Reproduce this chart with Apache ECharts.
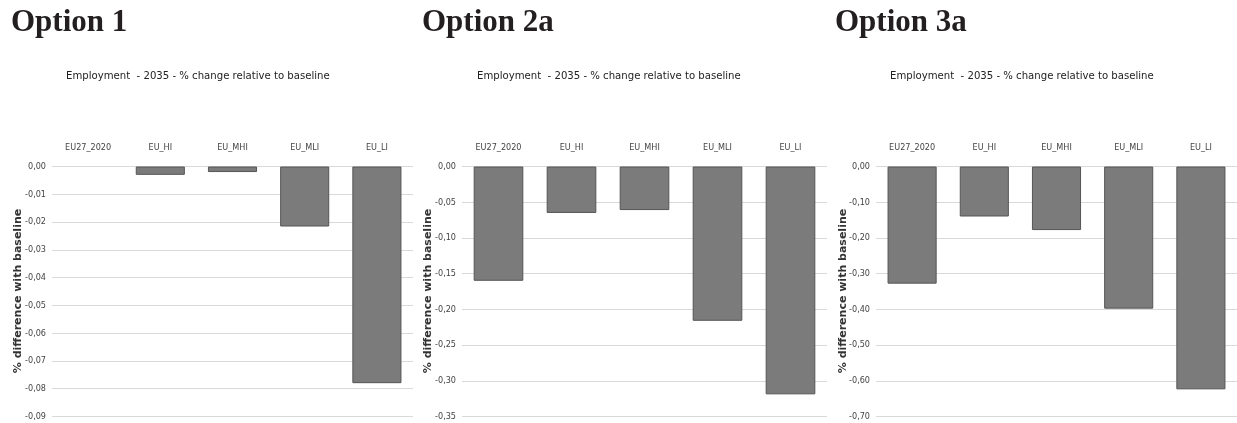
<!DOCTYPE html>
<html>
<head>
<meta charset="utf-8">
<script src="https://cdn.jsdelivr.net/npm/echarts@6/dist/echarts.min.js"></script>
<style>
  html, body { margin: 0; padding: 0; background: #fff; }
  #chart { width: 1237px; height: 423px; }
</style>
</head>
<body>
<div id="chart"></div>
<script>
const categories = ['EU27_2020', 'EU_HI', 'EU_MHI', 'EU_MLI', 'EU_LI'];
const option1 = [0, -0.003, -0.002, -0.0216, -0.078];
const option2a = [-0.16, -0.065, -0.061, -0.216, -0.319];
const option3a = [-0.328, -0.14, -0.178, -0.398, -0.624];
const panelTitles = ['Option 1', 'Option 2a', 'Option 3a'];
const subTitle = 'Employment  - 2035 - % change relative to baseline';
const yAxisTitle = '% difference with baseline';
const yMins = [-0.09, -0.35, -0.7];
const yIntervals = [0.01, 0.05, 0.1];

const chart = echarts.init(document.getElementById('chart'));

const grids = [
  { left: 52, width: 361 },
  { left: 462, width: 365 },
  { left: 876, width: 361 }
];
const condensed = '"DejaVu Sans Condensed", "Liberation Sans Narrow", sans-serif';
const fmt = v => Math.abs(v) < 1e-9 ? '0,00' : v.toFixed(2).replace('.', ',');

const seriesData = [option1, option2a, option3a];

chart.setOption({
  animation: false,
  title: [
    ...panelTitles.map((t, i) => ({
      text: t,
      left: [6, 417, 830][i],
      top: 2,
      textStyle: { fontFamily: '"Liberation Serif", serif', fontWeight: 'bold', fontSize: 31, color: '#231f20' }
    })),
    ...[0, 1, 2].map(i => ({
      text: subTitle,
      left: [61, 472, 885][i],
      top: 66,
      textStyle: { fontFamily: condensed, fontWeight: 'normal', fontSize: 11.25, color: '#222' }
    }))
  ],
  // rotated y-axis titles
  graphic: [18.5, 428.5, 843.5].map(x => ({
    type: 'text',
    x: x,
    y: 291,
    rotation: Math.PI / 2,
    style: {
      text: yAxisTitle,
      align: 'center',
      verticalAlign: 'middle',
      font: 'bold 11px "DejaVu Sans", sans-serif',
      fill: '#333'
    }
  })),
  grid: grids.map(g => ({ left: g.left, width: g.width, top: 166.5, bottom: 6.5 })),
  xAxis: [0, 1, 2].map(i => ({
    type: 'category',
    gridIndex: i,
    position: 'top',
    data: categories,
    axisLine: { show: false },
    axisTick: { show: false },
    axisLabel: { margin: 14, fontFamily: condensed, fontSize: 9, color: '#444' }
  })),
  yAxis: [0, 1, 2].map(i => ({
    type: 'value',
    gridIndex: i,
    min: yMins[i],
    max: 0,
    interval: yIntervals[i],
    axisLine: { show: false },
    axisTick: { show: false },
    axisLabel: { margin: 6, fontFamily: condensed, fontSize: 9, color: '#444', formatter: fmt },
    splitLine: { lineStyle: { color: '#d9d9d9', width: 1 } }
  })),
  series: [0, 1, 2].map(i => ({
    type: 'bar',
    xAxisIndex: i,
    yAxisIndex: i,
    data: seriesData[i].map(v => v === 0 ? { value: v, itemStyle: { borderWidth: 0 } } : v),
    barWidth: '68%',
    itemStyle: { color: '#7b7b7b', borderColor: '#555', borderWidth: 1 }
  }))
});
</script>
</body>
</html>
